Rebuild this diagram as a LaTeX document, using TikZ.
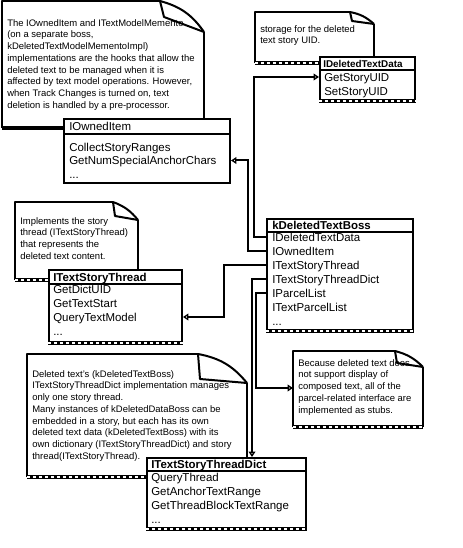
\documentclass[tikz,border=0pt]{standalone}
\usepackage{fontspec}
\setmainfont{Liberation Sans}
\usetikzlibrary{arrows.meta, fit}

\tikzset{
  classframe/.style={draw, line width=1.5pt, fill=white, inner sep=0pt},
  rowtext/.style={anchor=west, inner sep=0pt, font=\fontsize{8.6}{10.5}\selectfont, text height=6.2pt, text depth=0pt},
  headtext/.style={rowtext, font=\fontsize{8.6}{10.5}\selectfont\bfseries},
  notetext/.style={anchor=north west, inner sep=0pt, align=left, font=\fontsize{7.1}{8.8}\selectfont},
  noteline/.style={line width=1.5pt, line join=round},
  shadowline/.style={line width=3pt, postaction={draw=white, line width=0.9pt, dash pattern=on 2pt off 2.5pt}},
  link/.style={line width=1.5pt, -{Triangle[open, length=4pt, width=5pt, line width=1pt]}},
}

\begin{document}
\begin{tikzpicture}[x=0.75pt, y=-0.75pt]
\useasboundingbox (0,0) rectangle (462,548);

% note on the owned item
\fill [white] (2,1) -- (160,1) -- (204,32) -- (204,128) -- (2,128) -- cycle;
\draw [noteline] (160,1) -- (2,1) -- (2,128);
\draw [noteline] (204,32) -- (204,128);
\draw [line width=3pt] (2,128) -- (204,128);
\draw [noteline] (160,1) to[bend left=20] (204,32);
\draw [noteline] (160,1) -- (164,17) -- (204,32);
\node [notetext] (noteowned) at (7,19) {The IOwnedItem and ITextModelMemento\\
(on a separate boss,\\
kDeletedTextModelMementoImpl)\\
implementations are the hooks that allow the\\
deleted text to be managed when it is\\
affected by text model operations. However,\\
when Track Changes is turned on, text\\
deletion is handled by a pre-processor.};

% note on the story UID
\fill [white] (255,12) -- (350,12) -- (374,24) -- (374,63) -- (255,63) -- cycle;
\draw [noteline] (350,12) -- (255,12) -- (255,63);
\draw [noteline] (374,24) -- (374,63);
\draw [shadowline] (255,63) -- (374,63);
\draw [noteline] (350,12) to[bend left=15] (374,24);
\draw [noteline] (350,12) -- (352,21) -- (374,24);
\node [notetext] (notedata) at (260,25) {storage for the deleted\\ text story UID.};

% note on the story thread
\fill [white] (15,202) -- (113,202) -- (138,220) -- (138,280) -- (15,280) -- cycle;
\draw [noteline] (113,202) -- (15,202) -- (15,280);
\draw [noteline] (138,220) -- (138,280);
\draw [shadowline] (15,280) -- (138,280);
\draw [noteline] (113,202) to[bend left=15] (138,220);
\draw [noteline] (113,202) -- (115,216) -- (138,220);
\node [notetext] (notethread) at (20,217) {Implements the story\\
thread (ITextStoryThread)\\
that represents the\\
deleted text content.};

% note on the dictionary
\fill [white] (27,354) -- (198,354) -- (247,383) -- (247,477) -- (27,477) -- cycle;
\draw [noteline] (198,354) -- (27,354) -- (27,477);
\draw [noteline] (247,383) -- (247,477);
\draw [shadowline] (27,477) -- (247,477);
\draw [noteline] (198,354) to[bend left=20] (247,383);
\draw [noteline] (198,354) -- (200,379) -- (247,383);
\node [notetext] (notedict) at (32,370) {Deleted text's (kDeletedTextBoss)\\
ITextStoryThreadDict implementation manages\\
only one story thread.\\
Many instances of kDeletedDataBoss can be\\
embedded in a story, but each has its own\\
deleted text data (kDeletedTextBoss) with its\\
own dictionary (ITextStoryThreadDict) and story\\
thread(ITextStoryThread).};

% note on the parcel stubs
\fill [white] (293,351) -- (395,351) -- (423,367) -- (423,427) -- (293,427) -- cycle;
\draw [noteline] (395,351) -- (293,351) -- (293,427);
\draw [noteline] (423,367) -- (423,427);
\draw [shadowline] (293,427) -- (423,427);
\draw [noteline] (395,351) to[bend left=15] (423,367);
\draw [noteline] (395,351) -- (397,363) -- (423,367);
\node [notetext] (notestubs) at (298,359) {Because deleted text does\\
not support display of\\
composed text, all of the\\
parcel-related interface are\\
implemented as stubs.};
\coordinate (stubsedge) at (293,388);

% IOwnedItem
\node [classframe, fit={(64,119) (230,183)}] (owned) {};
\node [rowtext] (ownedcollect) at (69,147) {CollectStoryRanges};
\node [rowtext] (ownednum) at (69,160.5) {GetNumSpecialAnchorChars};
\node [rowtext] (ownedmore) at (69,174) {...};
\node [classframe, fit={(64,119) (230,134)}] (ownedhead) {};
\node [rowtext] (ownedname) at (69,126.5) {IOwnedItem};

% IDeletedTextData
\node [classframe, fit={(320,57) (415,100)}] (dataiface) {};
\draw [shadowline] (dataiface.south west) -- (dataiface.south east);
\node [rowtext] (datagetuid) at (324,77) {GetStoryUID};
\node [rowtext] (datasetuid) at (324,91) {SetStoryUID};
\node [classframe, fit={(320,57) (415,70)}] (datahead) {};
\node [headtext, font=\fontsize{7.4}{9}\selectfont\bfseries] (dataname) at (323,63.5) {IDeletedTextData};

% ITextStoryThread
\node [classframe, fit={(49,270) (182,342)}] (thread) {};
\draw [shadowline] (thread.south west) -- (thread.south east);
\node [rowtext] (threaddict) at (53,289) {GetDictUID};
\node [rowtext] (threadstart) at (53,303) {GetTextStart};
\node [rowtext] (threadquery) at (53,317) {QueryTextModel};
\node [rowtext] (threadmore) at (53,331) {...};
\node [classframe, fit={(49,270) (182,284)}] (threadhead) {};
\node [headtext] (threadname) at (53,277) {ITextStoryThread};

% ITextStoryThreadDict
\node [classframe, fit={(147,458) (306,528)}] (dict) {};
\draw [shadowline] (dict.south west) -- (dict.south east);
\node [rowtext] (dictquery) at (151,477) {QueryThread};
\node [rowtext] (dictanchor) at (151,491) {GetAnchorTextRange};
\node [rowtext] (dictblock) at (151,505) {GetThreadBlockTextRange};
\node [rowtext] (dictmore) at (151,519) {...};
\node [classframe, fit={(147,458) (306,471)}] (dicthead) {};
\node [headtext] (dictname) at (151,464.5) {ITextStoryThreadDict};

% kDeletedTextBoss
\node [classframe, fit={(267,219) (413,330)}] (boss) {};
\draw [shadowline] (boss.south west) -- (boss.south east);
\node [rowtext] (bossdata) at (272,237) {IDeletedTextData};
\node [rowtext] (bossowned) at (272,251) {IOwnedItem};
\node [rowtext] (bossthread) at (272,265) {ITextStoryThread};
\node [rowtext] (bossdict) at (272,279) {ITextStoryThreadDict};
\node [rowtext] (bossparcel) at (272,293) {IParcelList};
\node [rowtext] (bosstextparcel) at (272,307) {ITextParcelList};
\node [rowtext] (bossmore) at (272,321) {...};
\node [classframe, fit={(267,219) (413,232)}] (bosshead) {};
\node [headtext] (bossname) at (272,225.5) {kDeletedTextBoss};

% connectors
\draw [link] (boss.west |- bossdata) -- ++(-12,0) |- (dataiface.west |- datagetuid);
\draw [link] (boss.west |- bossowned) -- ++(-18,0) |- (owned.east |- ownednum);
\draw [link] (boss.west |- bossthread) -- ++(-42,0) |- (thread.east |- threadquery);
\draw [link] (boss.west |- bossdict) -- ++(-14,0) coordinate (dictbend) -- (dictbend |- dict.north);
\draw [link] (boss.west |- bossparcel) -- ++(-10,0) |- (stubsedge);
\end{tikzpicture}
\end{document}
